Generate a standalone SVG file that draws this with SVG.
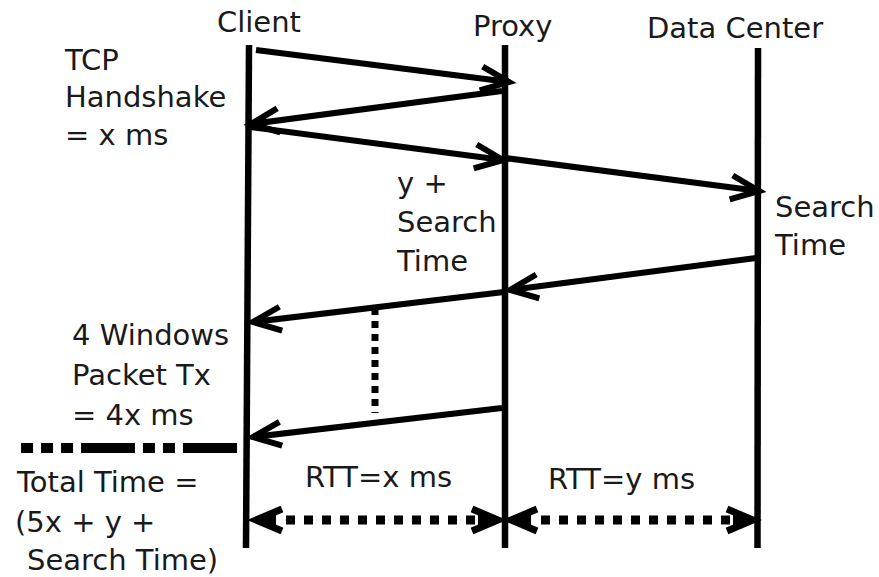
<svg xmlns="http://www.w3.org/2000/svg" width="879" height="577" viewBox="0 0 879 577">
<style>
  .t { font-family: "DejaVu Sans", Verdana, sans-serif; font-size: 29px; fill: #1a1a1a; }
  .life { stroke: #000; stroke-width: 6.5; fill: none; }
  .msg { stroke: #000; stroke-width: 6; fill: none; marker-end: url(#open); }
  .dot { stroke: #000; fill: none; }
</style>
<defs>
  <marker id="open" markerUnits="userSpaceOnUse" orient="auto" refX="0" refY="0" markerWidth="60" markerHeight="60" overflow="visible">
    <path d="M -28,-12 L 0,0 L -28,12" fill="none" stroke="#000" stroke-width="6" stroke-linejoin="miter"/>
  </marker>
  <marker id="solid" markerUnits="userSpaceOnUse" orient="auto-start-reverse" refX="0" refY="0" markerWidth="60" markerHeight="60" overflow="visible">
    <path d="M -28,-11 L -2,0 L -28,11" fill="none" stroke="#000" stroke-width="7"/>
    <path d="M -22,-6 L 0,0 L -22,6 Z" fill="#000"/>
  </marker>
</defs>

<g id="client">
  <line class="life" x1="249" y1="45" x2="246" y2="548"/>
  <text class="t" x="217" y="32">Client</text>
</g>
<g id="proxy">
  <line class="life" x1="505" y1="45" x2="505" y2="548"/>
  <text class="t" x="473" y="36">Proxy</text>
</g>
<g id="datacenter">
  <line class="life" x1="758" y1="48" x2="757.5" y2="548"/>
  <text class="t" x="647" y="38">Data Center</text>
</g>

<g id="labels">
  <text class="t" x="65" y="70">TCP</text>
  <text class="t" x="65" y="107">Handshake</text>
  <text class="t" x="65" y="145">= x ms</text>
  <text class="t" x="397" y="193">y +</text>
  <text class="t" x="397" y="232">Search</text>
  <text class="t" x="397" y="271">Time</text>
  <text class="t" x="775" y="217">Search</text>
  <text class="t" x="775" y="255">Time</text>
  <text class="t" x="72" y="345">4 Windows</text>
  <text class="t" x="72" y="385">Packet Tx</text>
  <text class="t" x="72" y="425">= 4x ms</text>
  <text class="t" x="17" y="492">Total Time =</text>
  <text class="t" x="15" y="532">(5x + y +</text>
  <text class="t" x="27" y="570">Search Time)</text>
  <text class="t" x="305" y="487">RTT=x ms</text>
  <text class="t" x="548" y="489">RTT=y ms</text>
</g>

<g id="connectors">
  <line class="msg" x1="256" y1="50" x2="509" y2="82"/>
  <line class="msg" x1="502" y1="91" x2="251" y2="124"/>
  <line class="msg" x1="250" y1="127" x2="503" y2="160"/>
  <line class="msg" x1="505" y1="158" x2="759" y2="191"/>
  <line class="msg" x1="756" y1="258" x2="510" y2="290"/>
  <line class="msg" x1="504" y1="292" x2="253" y2="322"/>
  <line class="msg" x1="502" y1="408" x2="253" y2="437"/>
  <line class="dot" x1="375" y1="308" x2="375" y2="413" stroke-width="7" stroke-dasharray="7 6"/>
  <line class="dot" x1="21" y1="448" x2="237" y2="448" stroke-width="10" stroke-dasharray="12 8 12 8 12 8 54 8 12 8 12 8 54"/>
  <line class="dot" x1="254" y1="520" x2="500" y2="520" stroke-width="9" stroke-dasharray="0 32 9 9 9 9 9 9 9 9 9 9 9 9 9 9 9 9 9 9 9 9 9 9 9 40" marker-start="url(#solid)" marker-end="url(#solid)"/>
  <line class="dot" x1="509" y1="520" x2="755" y2="520" stroke-width="9" stroke-dasharray="0 32 9 9 9 9 9 9 9 9 9 9 9 9 9 9 9 9 9 9 9 9 9 9 9 40" marker-start="url(#solid)" marker-end="url(#solid)"/>
</g>
</svg>
